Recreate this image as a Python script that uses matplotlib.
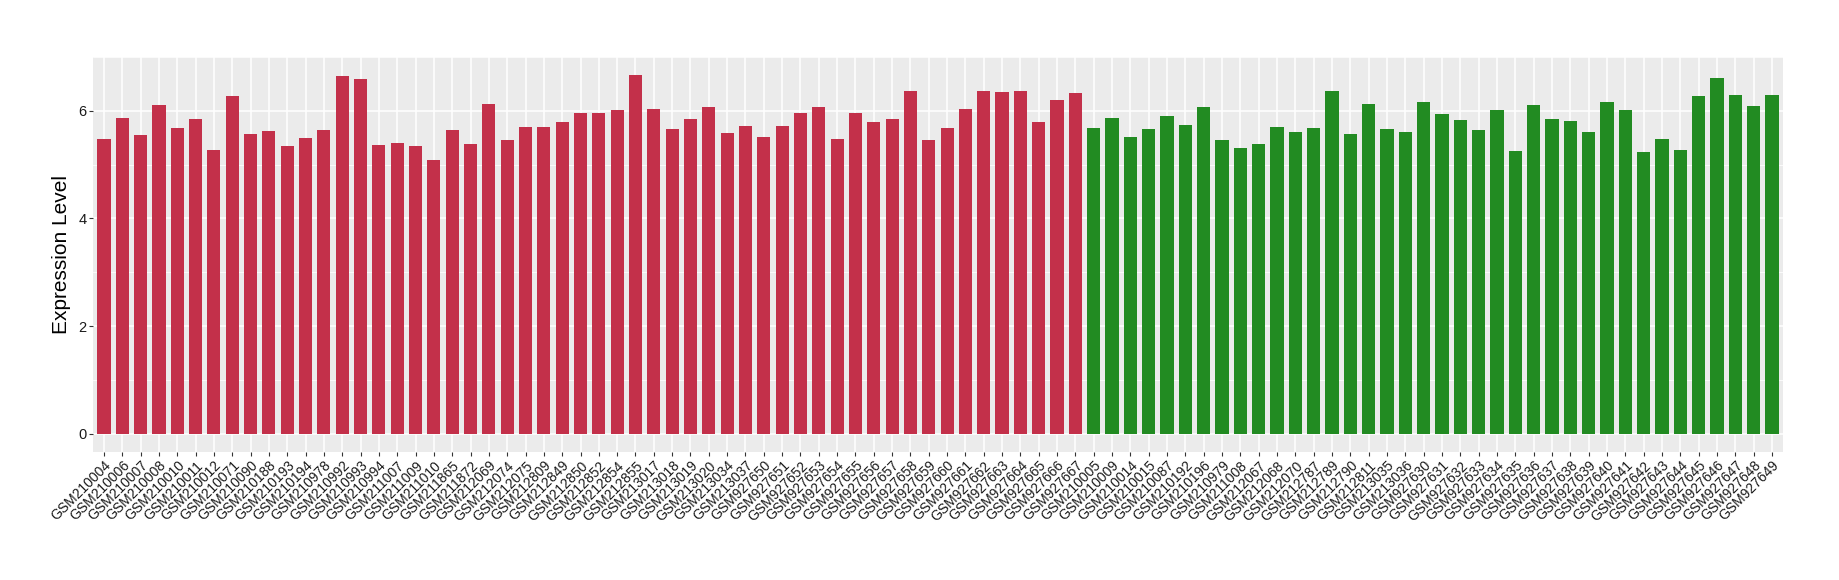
import matplotlib
matplotlib.use("Agg")
import matplotlib.pyplot as plt
import numpy as np

plt.rcParams['font.family'] = ['Liberation Sans', 'DejaVu Sans']

# samples per group, left (red) then right (green)
red_samples = ["GSM210004", "GSM210006", "GSM210007", "GSM210008", "GSM210010", "GSM210011",
               "GSM210012", "GSM210071", "GSM210090", "GSM210188", "GSM210193", "GSM210194",
               "GSM210978", "GSM210992", "GSM210993", "GSM210994", "GSM211007", "GSM211009",
               "GSM211010", "GSM211865", "GSM211872", "GSM212069", "GSM212074", "GSM212075",
               "GSM212809", "GSM212849", "GSM212850", "GSM212852", "GSM212854", "GSM212855",
               "GSM213017", "GSM213018", "GSM213019", "GSM213020", "GSM213034", "GSM213037"] + \
              ["GSM9276%02d" % i for i in range(50, 68)]
green_samples = ["GSM210005", "GSM210009", "GSM210014", "GSM210015", "GSM210087", "GSM210192",
                 "GSM210196", "GSM210979", "GSM211008", "GSM212067", "GSM212068", "GSM212070",
                 "GSM212787", "GSM212789", "GSM212790", "GSM212811", "GSM213035", "GSM213036"] + \
                ["GSM9276%02d" % i for i in range(30, 50)]

red_values = [5.48, 5.87, 5.55, 6.11, 5.68, 5.85, 5.27, 6.28, 5.57, 5.63, 5.35, 5.50,
              5.64, 6.65, 6.58, 5.36, 5.40, 5.35, 5.08, 5.64, 5.38, 6.13, 5.46, 5.70,
              5.70, 5.79, 5.96, 5.96, 6.02, 6.67, 6.04, 5.66, 5.85, 6.07, 5.59, 5.72,
              5.51, 5.72, 5.96, 6.07, 5.48, 5.96, 5.79, 5.85, 6.36, 5.46, 5.68, 6.04,
              6.36, 6.34, 6.37, 5.79, 6.19, 6.32]
green_values = [5.68, 5.87, 5.51, 5.66, 5.91, 5.74, 6.06, 5.46, 5.31, 5.38, 5.70, 5.61,
                5.68, 6.37, 5.57, 6.13, 5.66, 5.61, 6.17, 5.94, 5.83, 5.64, 6.02, 5.25,
                6.11, 5.85, 5.81, 5.61, 6.17, 6.02, 5.23, 5.48, 5.27, 6.28, 6.60, 6.30,
                6.09, 6.30]

samples = red_samples + green_samples
values = red_values + green_values
colors = ["#C3304A"] * len(red_values) + ["#228B22"] * len(green_values)

fig = plt.figure(figsize=(18.4, 5.8), dpi=100)
ax = fig.add_axes([0.0505, 0.221, 0.9185, 0.681])

x = np.arange(len(samples))
ax.set_facecolor("#EBEBEB")
ax.set_axisbelow(True)
ax.bar(x, values, width=0.72, color=colors, zorder=3)

ax.set_xlim(-0.6, len(samples) - 0.4)
ax.set_ylim(-0.334, 7.0)
ax.set_yticks([0, 2, 4, 6])
ax.set_yticks([1, 3, 5, 7], minor=True)
ax.set_xticks(x)
ax.set_xticklabels(samples, rotation=45, ha='right', va='top',
                   rotation_mode='anchor', fontsize=10, color='#1A1A1A')
ax.tick_params(axis='y', labelsize=10.5, labelcolor='#1A1A1A')
ax.tick_params(axis='both', which='major', length=2.75, width=0.8, color='#333333', pad=2)
ax.tick_params(axis='y', which='minor', length=0)

ax.grid(True, which='major', color='white', linewidth=1.1, zorder=0)
ax.grid(True, which='minor', axis='y', color='white', linewidth=0.55, zorder=0)
for s in ax.spines.values():
    s.set_visible(False)

ax.set_ylabel("Expression Level", fontsize=15, color='black', labelpad=5)

fig.savefig("out.png", dpi=100)
